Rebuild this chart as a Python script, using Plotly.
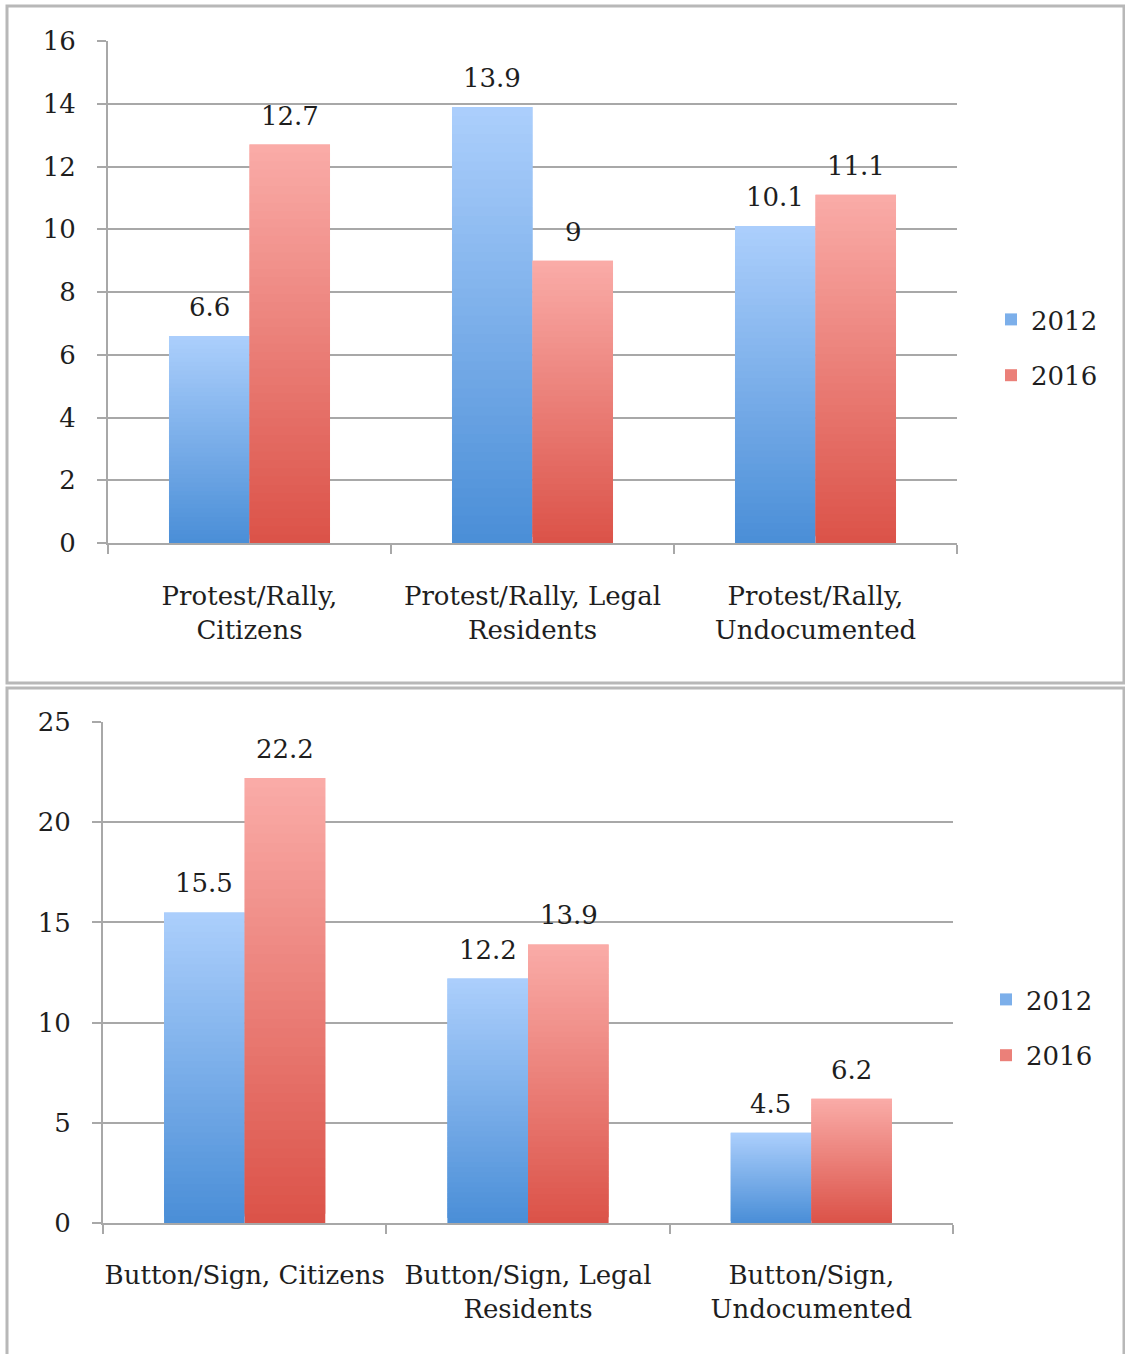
import plotly.graph_objects as go

# Participation shares (%), 2012 vs 2016
top_categories = ["Protest/Rally,<br>Citizens", "Protest/Rally, Legal<br>Residents", "Protest/Rally,<br>Undocumented"]
top_2012 = [6.6, 13.9, 10.1]
top_2016 = [12.7, 9, 11.1]
top_ticks = [0, 2, 4, 6, 8, 10, 12, 14, 16]

bottom_categories = ["Button/Sign, Citizens", "Button/Sign, Legal<br>Residents", "Button/Sign,<br>Undocumented"]
bottom_2012 = [15.5, 12.2, 4.5]
bottom_2016 = [22.2, 13.9, 6.2]
bottom_ticks = [0, 5, 10, 15, 20, 25]

series_names = ["2012", "2016"]

W, H = 1125, 1354
FONT = "DejaVu Serif"
GRID = "#a8a8a8"
TEXT = "#1e1e1e"

# vertical gradient ends: (bottom, top)
GRADIENTS = {
    "2012": ((0x4a, 0x8e, 0xd7), (0xac, 0xcf, 0xfc)),
    "2016": ((0xdb, 0x52, 0x48), (0xfa, 0xac, 0xa8)),
}
N_STEPS = 48


def mix(c0, c1, t):
    return "rgb(%d,%d,%d)" % tuple(round(a + (b - a) * t) for a, b in zip(c0, c1))


def px_x(v):
    return v / W


def px_y(v):
    return 1 - v / H


fig = go.Figure()

panels = [
    dict(cats=top_categories, vals=[top_2012, top_2016], ticks=top_ticks,
         xa="x", ya="y", legend="legend"),
    dict(cats=bottom_categories, vals=[bottom_2012, bottom_2016], ticks=bottom_ticks,
         xa="x2", ya="y2", legend="legend2"),
]

# each bar is built from stacked slices; every slice reaches two steps up so the
# next (drawn later, on top) slice hides the seam
for p in panels:
    for name, values in zip(series_names, p["vals"]):
        lo, hi = GRADIENTS[name]
        for k in range(N_STEPS):
            t = (k + 0.5) / N_STEPS
            bases = [v * k / N_STEPS for v in values]
            tops = [v * min(k + 2, N_STEPS) / N_STEPS for v in values]
            fig.add_trace(go.Bar(
                x=p["cats"],
                y=[tp - b for tp, b in zip(tops, bases)],
                base=bases,
                offsetgroup=name,
                legendgroup=name,
                name=name,
                showlegend=(k == N_STEPS // 2),
                legend=p["legend"],
                marker=dict(color=mix(lo, hi, t), line=dict(width=0)),
                xaxis=p["xa"], yaxis=p["ya"],
                hoverinfo="skip",
            ))

# value labels above each bar
annotations = []
for p in panels:
    for si, (name, values) in enumerate(zip(series_names, p["vals"])):
        for cat, v in zip(p["cats"], values):
            annotations.append(dict(
                x=cat, y=v, xref=p["xa"], yref=p["ya"],
                text=f"{v:g}", showarrow=False,
                xshift=-40.5 if si == 0 else 40.5, yshift=12,
                yanchor="bottom", xanchor="center",
                font=dict(family=FONT, size=26, color=TEXT),
            ))

axis_common = dict(
    showline=True, linecolor=GRID, linewidth=2,
    ticks="outside", ticklen=9, tickwidth=2, tickcolor=GRID,
    tickfont=dict(family=FONT, size=26, color=TEXT),
    zeroline=False, automargin=False,
)

legend_common = dict(
    xanchor="left", yanchor="top",
    font=dict(family=FONT, size=26, color=TEXT),
    tracegroupgap=19, bgcolor="rgba(0,0,0,0)",
)

fig.update_layout(
    template="none",
    width=W, height=H,
    margin=dict(l=0, r=0, t=0, b=0),
    paper_bgcolor="white", plot_bgcolor="white",
    barmode="group", bargap=0.431, bargroupgap=0,
    annotations=annotations,
    xaxis=dict(domain=[px_x(108), px_x(957)], anchor="y", type="category",
               tickson="boundaries", showgrid=False, tickangle=0,
               ticklabelstandoff=29, **axis_common),
    yaxis=dict(domain=[px_y(543), px_y(41)], anchor="x", range=[0, 16],
               tickvals=top_ticks, showgrid=True, gridcolor=GRID, gridwidth=2,
               ticklabelstandoff=16, **axis_common),
    xaxis2=dict(domain=[px_x(103), px_x(953)], anchor="y2", type="category",
                tickson="boundaries", showgrid=False, tickangle=0,
                ticklabelstandoff=28, **axis_common),
    yaxis2=dict(domain=[px_y(1223), px_y(722)], anchor="x2", range=[0, 25],
                tickvals=bottom_ticks, showgrid=True, gridcolor=GRID, gridwidth=2,
                ticklabelstandoff=16, **axis_common),
    legend=dict(x=px_x(991), y=px_y(296), **legend_common),
    legend2=dict(x=px_x(986), y=px_y(976), **legend_common),
    shapes=[
        dict(type="rect", xref="paper", yref="paper",
             x0=px_x(7), x1=px_x(1124), y0=px_y(683), y1=px_y(6),
             line=dict(color="#b8b8b8", width=3), fillcolor="rgba(0,0,0,0)", layer="below"),
        dict(type="rect", xref="paper", yref="paper",
             x0=px_x(7), x1=px_x(1124), y0=px_y(1360), y1=px_y(688),
             line=dict(color="#b8b8b8", width=3), fillcolor="rgba(0,0,0,0)", layer="below"),
    ],
)

fig.write_html("out.html")
